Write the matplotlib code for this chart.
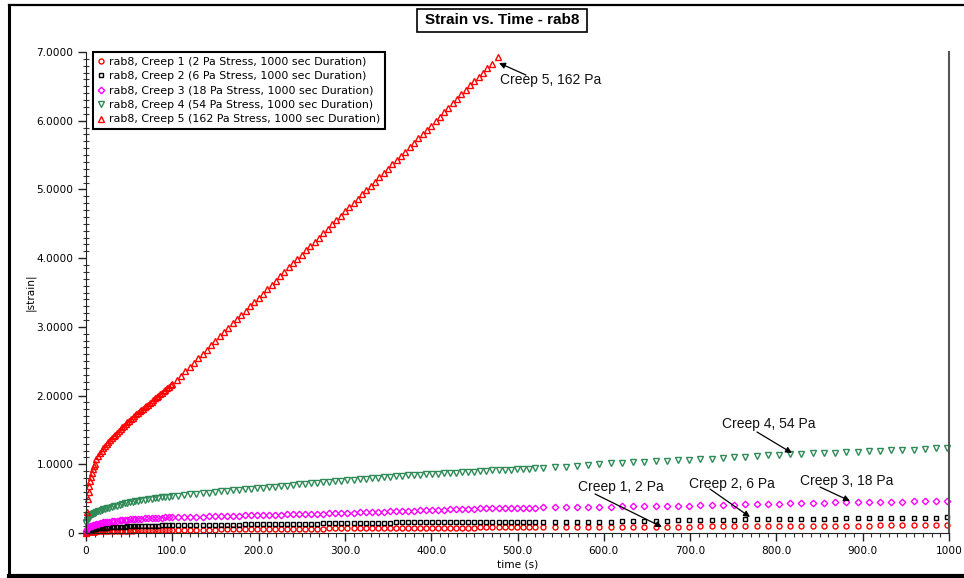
import matplotlib
matplotlib.use("Agg")
import matplotlib.pyplot as plt
from matplotlib.patches import Rectangle
from matplotlib.lines import Line2D
from matplotlib.ticker import MultipleLocator

plt.rcParams['font.family'] = ['DejaVu Sans']

# ---- data ----
# shared sampling times (s) for creep 1 - 4
time_low = ([0, 1, 2, 3, 4, 5, 6, 7, 8, 9, 10, 12, 14, 16, 18, 20, 22, 24, 27, 30,
             33, 36, 39, 42, 45, 48, 51, 54, 57, 60, 64, 68, 72, 76, 80, 84, 88, 92, 96, 100]
            + [107, 114, 121, 128, 135, 142, 149, 156, 163, 170,
               177, 184, 191, 198, 205, 212, 219, 226, 233, 240,
               247, 254, 261, 268, 275, 282, 289, 296, 303, 310,
               317, 324, 331, 338, 345, 352, 359, 366, 373, 380,
               387, 394, 401, 408, 415, 422, 429, 436, 443, 450,
               457, 464, 471, 478, 485, 492, 499, 506, 513, 520]
            + [530, 543, 556, 569, 582, 595, 608, 621, 634, 647, 660, 673, 686, 699,
               712, 725, 738, 751, 764, 777, 790, 803, 816, 829, 842, 855, 868, 881,
               894, 907, 920, 933, 946, 959, 972, 985, 998])

# creep 5 stops at ~477 s
time_c5 = ([0, 1, 2, 3, 4, 5, 6, 7, 8, 9,
            10, 12, 14, 16, 18, 20, 22, 24, 26, 28,
            30, 32, 34, 36, 38, 40, 42, 44, 46, 48,
            50, 52, 54, 56, 58, 60, 62, 64, 66, 68,
            70, 72, 74, 76, 78, 80, 82, 84, 86, 88,
            90, 92, 94, 96, 98, 100]
           + [105, 110, 115, 120, 125, 130, 135, 140, 145, 150, 155, 160, 165, 170,
              175, 180, 185, 190, 195, 200, 205, 210, 215, 220, 225, 230, 235, 240,
              245, 250, 255, 260, 265, 270, 275, 280, 285, 290, 295, 300, 305, 310,
              315, 320, 325, 330, 335, 340, 345, 350, 355, 360, 365, 370, 375, 380,
              385, 390, 395, 400, 405, 410, 415, 420, 425, 430, 435, 440, 445, 450,
              455, 460, 465, 470, 477])

strain_c1 = ([0.0, 0.006, 0.009, 0.011, 0.013, 0.014, 0.015, 0.016, 0.017, 0.018, 0.019,
              0.020, 0.022, 0.023, 0.024, 0.025, 0.026, 0.027, 0.028, 0.029, 0.030, 0.031,
              0.032, 0.033, 0.034, 0.035, 0.036, 0.036, 0.037, 0.038, 0.039, 0.039, 0.040,
              0.041, 0.042, 0.042, 0.043, 0.044, 0.044, 0.045]
             + [0.046, 0.046, 0.047, 0.048, 0.048, 0.049, 0.050, 0.051, 0.051, 0.052,
                0.053, 0.053, 0.054, 0.055, 0.055, 0.056, 0.057, 0.058, 0.058, 0.059,
                0.060, 0.061, 0.062, 0.064, 0.065, 0.066, 0.068, 0.069, 0.069, 0.070,
                0.071, 0.071, 0.072, 0.073, 0.073, 0.074, 0.075, 0.076, 0.076, 0.077,
                0.077, 0.078, 0.078, 0.078, 0.079, 0.079, 0.079, 0.080, 0.080, 0.080,
                0.081, 0.081, 0.081, 0.082, 0.082, 0.083, 0.084, 0.084, 0.085, 0.086]
             + [0.086, 0.087, 0.087, 0.087, 0.087, 0.087, 0.088, 0.088, 0.089, 0.090,
                0.091, 0.092, 0.093, 0.094, 0.095, 0.096, 0.097, 0.098, 0.099, 0.101,
                0.103, 0.105, 0.106, 0.107, 0.107, 0.107, 0.107, 0.108, 0.108, 0.109,
                0.110, 0.111, 0.112, 0.113, 0.114, 0.115, 0.116])

strain_c2 = ([0.01, 0.025, 0.032, 0.037, 0.041, 0.045, 0.048, 0.051, 0.054, 0.056, 0.058,
              0.062, 0.066, 0.069, 0.072, 0.074, 0.077, 0.079, 0.082, 0.084, 0.087, 0.089,
              0.091, 0.093, 0.094, 0.096, 0.097, 0.099, 0.100, 0.101, 0.103, 0.104, 0.106,
              0.107, 0.108, 0.109, 0.110, 0.111, 0.112, 0.113]
             + [0.114, 0.114, 0.115, 0.116, 0.117, 0.117, 0.118, 0.119, 0.121, 0.122,
                0.123, 0.125, 0.126, 0.127, 0.128, 0.129, 0.131, 0.132, 0.133, 0.134,
                0.135, 0.136, 0.137, 0.138, 0.139, 0.140, 0.141, 0.142, 0.143, 0.144,
                0.145, 0.146, 0.147, 0.149, 0.150, 0.151, 0.153, 0.154, 0.154, 0.155,
                0.156, 0.156, 0.157, 0.157, 0.158, 0.158, 0.158, 0.159, 0.159, 0.159,
                0.160, 0.160, 0.160, 0.160, 0.160, 0.160, 0.161, 0.161, 0.161, 0.161]
             + [0.161, 0.162, 0.162, 0.163, 0.164, 0.165, 0.166, 0.168, 0.170, 0.173,
                0.176, 0.179, 0.182, 0.185, 0.187, 0.189, 0.191, 0.195, 0.199, 0.204,
                0.208, 0.208, 0.209, 0.209, 0.210, 0.210, 0.211, 0.212, 0.212, 0.213,
                0.213, 0.214, 0.215, 0.217, 0.220, 0.224, 0.228])

strain_c3 = ([0.03, 0.06, 0.075, 0.085, 0.09, 0.095, 0.10, 0.105, 0.11, 0.115, 0.12,
              0.127, 0.135, 0.142, 0.148, 0.153, 0.158, 0.162, 0.167, 0.172, 0.177, 0.181,
              0.185, 0.189, 0.193, 0.196, 0.199, 0.202, 0.205, 0.207, 0.210, 0.213, 0.215,
              0.218, 0.220, 0.222, 0.224, 0.226, 0.228, 0.230]
             + [0.232, 0.234, 0.236, 0.238, 0.240, 0.243, 0.245, 0.247, 0.249, 0.251,
                0.253, 0.255, 0.257, 0.259, 0.262, 0.265, 0.267, 0.269, 0.271, 0.273,
                0.275, 0.277, 0.279, 0.281, 0.283, 0.286, 0.289, 0.291, 0.293, 0.296,
                0.299, 0.302, 0.304, 0.307, 0.310, 0.313, 0.316, 0.319, 0.322, 0.326,
                0.329, 0.332, 0.334, 0.337, 0.340, 0.343, 0.346, 0.348, 0.351, 0.354,
                0.357, 0.360, 0.362, 0.365, 0.367, 0.368, 0.369, 0.370, 0.370, 0.371]
             + [0.372, 0.372, 0.374, 0.376, 0.378, 0.381, 0.384, 0.386, 0.388, 0.390,
                0.392, 0.394, 0.397, 0.400, 0.403, 0.406, 0.409, 0.413, 0.417, 0.421,
                0.425, 0.429, 0.433, 0.436, 0.439, 0.441, 0.444, 0.447, 0.449, 0.451,
                0.453, 0.455, 0.458, 0.461, 0.464, 0.467, 0.470])

strain_c4 = ([0.14, 0.19, 0.21, 0.225, 0.24, 0.25, 0.26, 0.27, 0.28, 0.285, 0.29,
              0.305, 0.315, 0.325, 0.335, 0.345, 0.355, 0.36, 0.37, 0.38, 0.39, 0.40,
              0.41, 0.42, 0.43, 0.44, 0.447, 0.455, 0.46, 0.467, 0.475, 0.483, 0.49,
              0.497, 0.505, 0.512, 0.518, 0.525, 0.53, 0.537]
             + [0.545, 0.554, 0.562, 0.571, 0.579, 0.587, 0.596, 0.604, 0.611, 0.619,
                0.627, 0.635, 0.644, 0.652, 0.660, 0.667, 0.675, 0.683, 0.690, 0.698,
                0.706, 0.713, 0.721, 0.728, 0.736, 0.743, 0.751, 0.759, 0.766, 0.774,
                0.782, 0.789, 0.796, 0.804, 0.812, 0.819, 0.826, 0.832, 0.838, 0.844,
                0.850, 0.855, 0.860, 0.865, 0.870, 0.875, 0.880, 0.885, 0.890, 0.895,
                0.901, 0.906, 0.911, 0.916, 0.920, 0.924, 0.928, 0.932, 0.936, 0.940]
             + [0.945, 0.955, 0.967, 0.979, 0.991, 1.003, 1.013, 1.021, 1.029, 1.036,
                1.044, 1.051, 1.059, 1.067, 1.075, 1.082, 1.090, 1.099, 1.108, 1.118,
                1.128, 1.137, 1.146, 1.152, 1.158, 1.163, 1.169, 1.175, 1.182, 1.188,
                1.195, 1.202, 1.208, 1.215, 1.223, 1.232, 1.242])

strain_c5 = ([0, 0.30, 0.50, 0.60, 0.68, 0.75, 0.81, 0.87, 0.93, 0.97,
              1.01, 1.07, 1.12, 1.16, 1.20, 1.23, 1.26, 1.29, 1.32, 1.35,
              1.38, 1.41, 1.43, 1.46, 1.49, 1.51, 1.54, 1.56, 1.585, 1.61,
              1.635, 1.655, 1.68, 1.70, 1.725, 1.745, 1.77, 1.79, 1.81, 1.83,
              1.85, 1.87, 1.89, 1.91, 1.935, 1.96, 1.98, 2.00, 2.02, 2.04,
              2.06, 2.08, 2.105, 2.13, 2.15, 2.17]
             + [2.23, 2.29, 2.355, 2.42, 2.48, 2.545, 2.61, 2.67, 2.735, 2.80,
                2.86, 2.92, 2.985, 3.05, 3.11, 3.17, 3.235, 3.30, 3.36, 3.42,
                3.485, 3.55, 3.61, 3.67, 3.735, 3.80, 3.865, 3.93, 3.99, 4.05,
                4.115, 4.18, 4.24, 4.30, 4.365, 4.43, 4.49, 4.55, 4.615, 4.68,
                4.74, 4.80, 4.865, 4.93, 4.99, 5.05, 5.115, 5.18, 5.24, 5.30,
                5.365, 5.43, 5.49, 5.55, 5.615, 5.68, 5.745, 5.81, 5.87, 5.93,
                5.995, 6.06, 6.125, 6.19, 6.255, 6.32, 6.385, 6.45, 6.515, 6.58,
                6.64, 6.70, 6.765, 6.83, 6.93])

labels = ['rab8, Creep 1 (2 Pa Stress, 1000 sec Duration)',
          'rab8, Creep 2 (6 Pa Stress, 1000 sec Duration)',
          'rab8, Creep 3 (18 Pa Stress, 1000 sec Duration)',
          'rab8, Creep 4 (54 Pa Stress, 1000 sec Duration)',
          'rab8, Creep 5 (162 Pa Stress, 1000 sec Duration)']

# callouts: text, text position, arrow tail, arrow tip (data units)
callouts = [('Creep 5, 162 Pa', (479.7, 6.59), (509.8, 6.665), (478.6, 6.84)),
            ('Creep 4, 54 Pa', (737.0, 1.586), (777.5, 1.47), (818.0, 1.164)),
            ('Creep 1, 2 Pa', (570.0, 0.669), (589.8, 0.568), (667.4, 0.087)),
            ('Creep 2, 6 Pa', (698.7, 0.713), (723.0, 0.64), (769.4, 0.233)),
            ('Creep 3, 18 Pa', (827.3, 0.757), (850.5, 0.669), (885.3, 0.466))]

x_ticks = [0, 100, 200, 300, 400, 500, 600, 700, 800, 900, 1000]
x_tick_labels = ['0', '100.0', '200.0', '300.0', '400.0', '500.0', '600.0',
                 '700.0', '800.0', '900.0', '1000']
y_ticks = [0, 1, 2, 3, 4, 5, 6, 7]
y_tick_labels = ['0', '1.0000', '2.0000', '3.0000', '4.0000', '5.0000', '6.0000', '7.0000']

W, H = 964, 578
fig = plt.figure(figsize=(W / 100, H / 100), dpi=100)
fig.patch.set_facecolor('white')


def fx(px):
    return px / W


def fy(py):
    return 1 - py / H


ax = fig.add_axes([fx(86), fy(533), (949 - 86) / W, (533 - 52) / H])

styles = [dict(marker='o', mec='#ff0000', ms=3.6),
          dict(marker='s', mec='#000000', ms=3.5),
          dict(marker='D', mec='#ff00ff', ms=3.3),
          dict(marker='v', mec='#2e8b57', ms=4.4),
          dict(marker='^', mec='#ff0000', ms=4.4)]
series = [(time_low, strain_c1), (time_low, strain_c2), (time_low, strain_c3),
          (time_low, strain_c4), (time_c5, strain_c5)]

for (t, s), st, lab in zip(series, styles, labels):
    ax.plot(t, s, linestyle='none', marker=st['marker'], mfc='none', mec=st['mec'],
            ms=st['ms'], mew=1.0, label=lab, clip_on=False)

ax.set_xlim(0, 1000)
ax.set_ylim(0, 7.0)
ax.set_xticks(x_ticks)
ax.set_xticklabels(x_tick_labels)
ax.set_yticks(y_ticks)
ax.set_yticklabels(y_tick_labels)
ax.xaxis.set_minor_locator(MultipleLocator(10))
ax.yaxis.set_minor_locator(MultipleLocator(0.1))
ax.tick_params(axis='both', which='major', direction='out', length=6, width=1,
               labelsize=7.6, colors='#222222', labelcolor='black', pad=3)
ax.tick_params(axis='x', which='minor', direction='out', length=3, width=0.8, colors='#333333')
ax.tick_params(axis='y', which='minor', direction='inout', length=4, width=0.8, colors='#333333')

ax.spines['top'].set_visible(False)
ax.spines['right'].set_color('#555555')
ax.spines['right'].set_linewidth(1.5)
ax.spines['left'].set_color('#222222')
ax.spines['bottom'].set_color('#222222')

ax.set_xlabel('time (s)', fontsize=7.6, labelpad=3)
ax.set_ylabel('|strain|', fontsize=7.6)
ax.yaxis.set_label_coords((36 - 86) / (949 - 86), 0.5)

leg = ax.legend(loc='upper left', bbox_to_anchor=(0.0078, 1.0), fontsize=7.9,
                frameon=True, fancybox=False, edgecolor='black', framealpha=1,
                handlelength=0.6, handletextpad=0.4, borderpad=0.45,
                labelspacing=0.4, borderaxespad=0)
leg.get_frame().set_linewidth(1.5)

for text, pos, tail, tip in callouts:
    ax.text(pos[0], pos[1], text, fontsize=10, ha='left', va='center', color='#111111',
            family=['Liberation Sans', 'DejaVu Sans'])
    ax.annotate('', xy=tip, xytext=tail,
                arrowprops=dict(arrowstyle='-|>', color='black', lw=0.9,
                                shrinkA=0, shrinkB=0, mutation_scale=9))

# outer frame of the exported chart
fig.add_artist(Line2D([fx(9), 1.01], [fy(5), fy(5)], transform=fig.transFigure,
                      color='black', lw=1.6))
fig.add_artist(Line2D([fx(9), fx(9)], [fy(5), fy(576)], transform=fig.transFigure,
                      color='black', lw=2.2))
fig.add_artist(Line2D([fx(9), 1.01], [fy(576), fy(576)], transform=fig.transFigure,
                      color='black', lw=3.0))

# boxed title
fig.add_artist(Rectangle((fx(417), fy(32)), (587 - 417) / W, 23 / H,
                         transform=fig.transFigure, facecolor='white',
                         edgecolor='black', lw=1.2))
fig.text(fx(502), fy(20.5), 'Strain vs. Time - rab8', ha='center', va='center',
         fontsize=11, fontweight='bold',
         family=['Liberation Sans Narrow', 'Liberation Sans', 'DejaVu Sans'])

fig.savefig('out.png', dpi=100)
